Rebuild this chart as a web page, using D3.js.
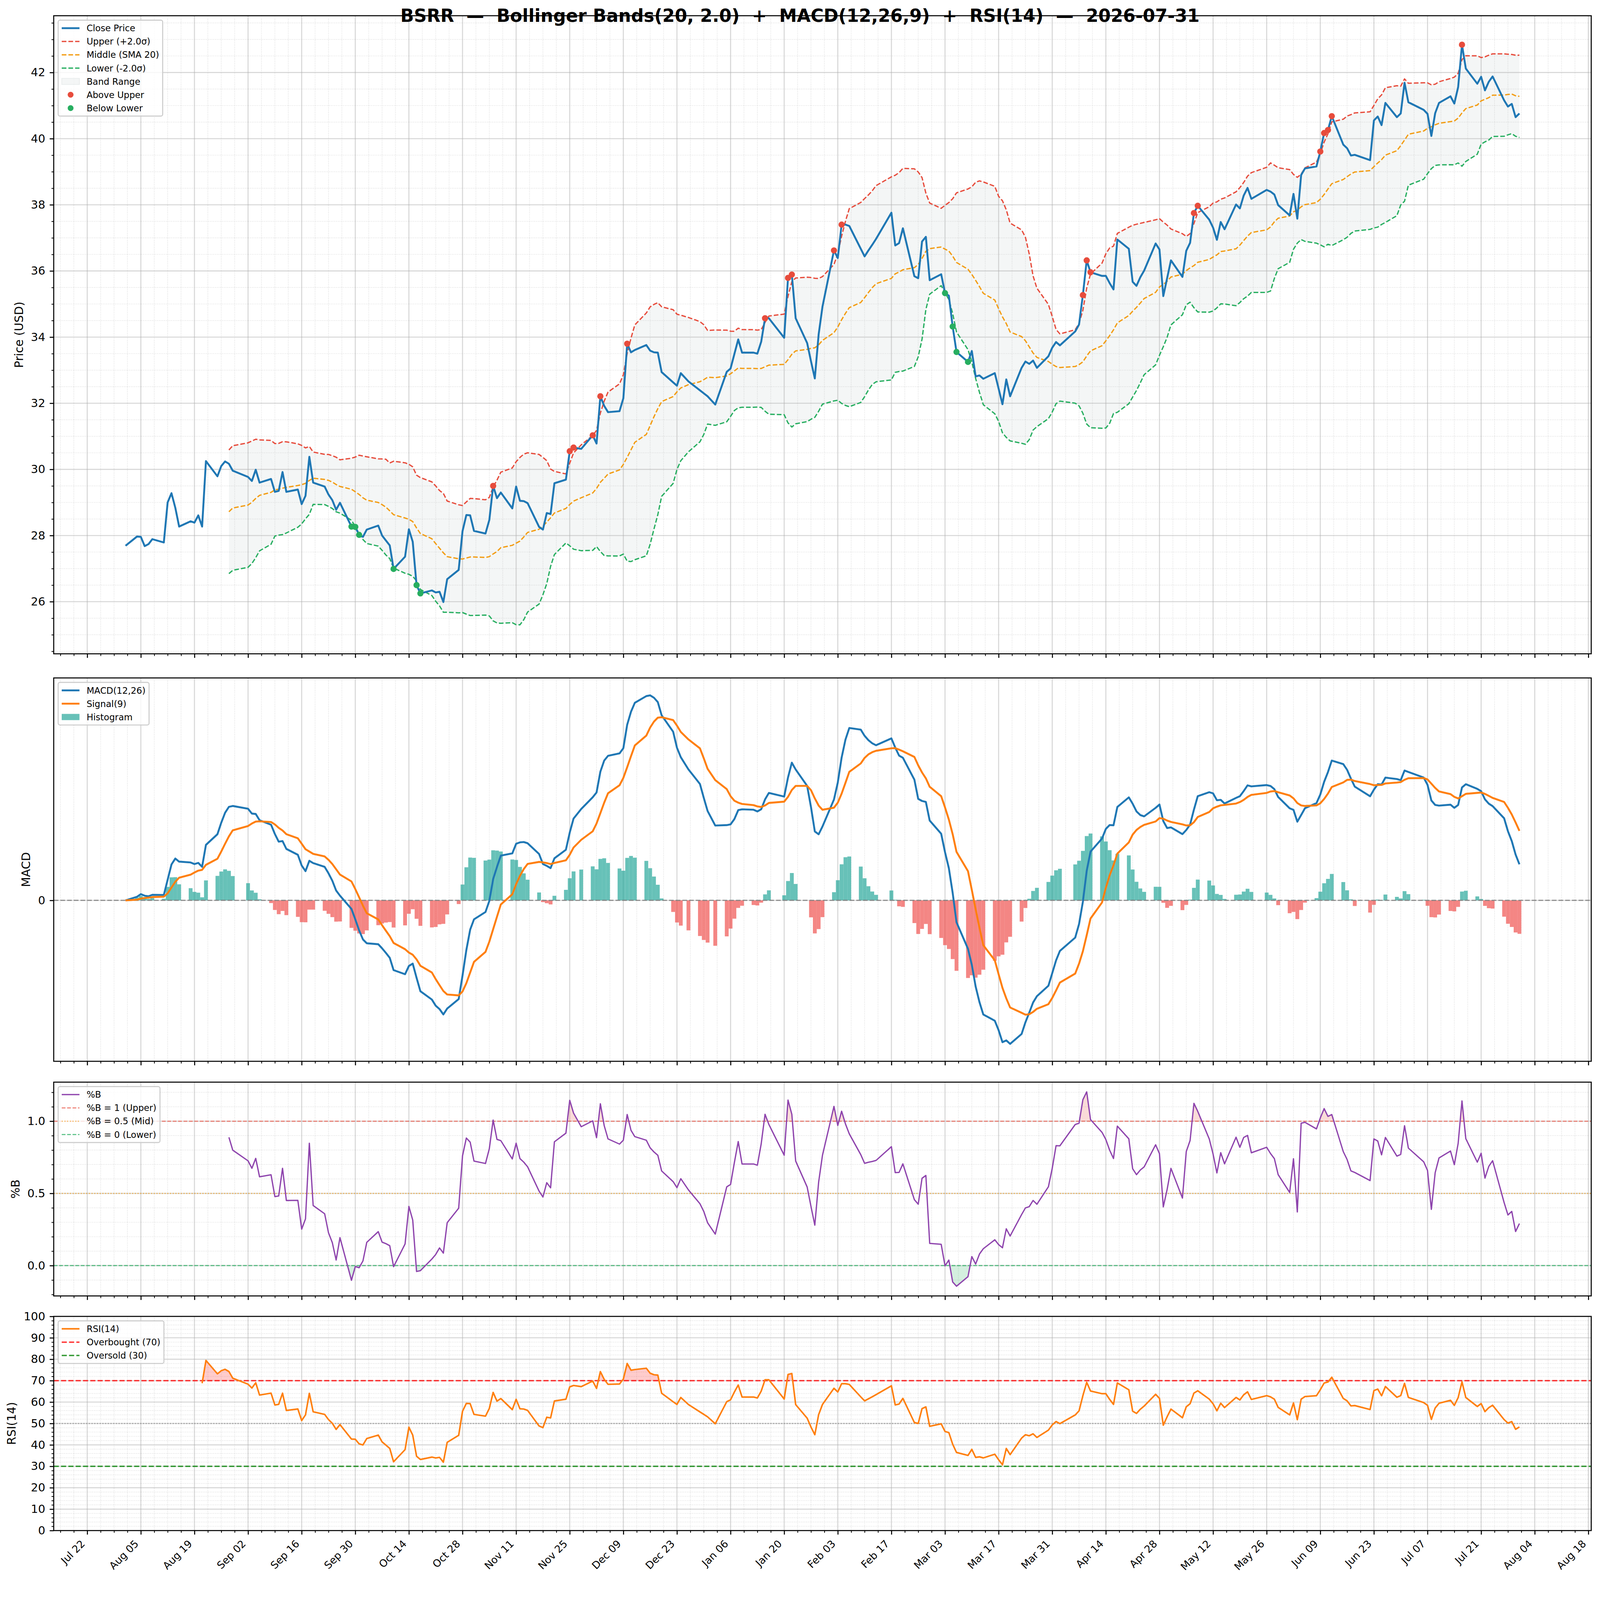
<!DOCTYPE html>
<html>
<head>
<meta charset="utf-8">
<title>BSRR Bollinger Bands + MACD + RSI</title>
<script src="https://cdn.jsdelivr.net/npm/d3@7/dist/d3.min.js"></script>
<style>
  html, body { margin: 0; padding: 0; background: #fff; overflow: hidden; }
  #chart { display: block; width: 100vw; height: calc(100vw * 4322 / 4378); }
  svg text { font-family: "DejaVu Sans", sans-serif; fill: #000; }
</style>
</head>
<body>
<svg id="chart" viewBox="0 0 4378 4322" preserveAspectRatio="xMinYMin meet"></svg>
<script>
// ---- values (NYSE trading days) ----
const tradeDates = [
  "2025-08-01","2025-08-04","2025-08-05","2025-08-06","2025-08-07","2025-08-08","2025-08-11","2025-08-12","2025-08-13","2025-08-14","2025-08-15",
  "2025-08-18","2025-08-19","2025-08-20","2025-08-21","2025-08-22","2025-08-25","2025-08-26","2025-08-27","2025-08-28","2025-08-29",
  "2025-09-02","2025-09-03","2025-09-04","2025-09-05","2025-09-08","2025-09-09","2025-09-10","2025-09-11","2025-09-12","2025-09-15",
  "2025-09-16","2025-09-17","2025-09-18","2025-09-19","2025-09-22","2025-09-23","2025-09-24","2025-09-25","2025-09-26","2025-09-29","2025-09-30",
  "2025-10-01","2025-10-02","2025-10-03","2025-10-06","2025-10-07","2025-10-08","2025-10-09","2025-10-10","2025-10-13","2025-10-14","2025-10-15",
  "2025-10-16","2025-10-17","2025-10-20","2025-10-21","2025-10-22","2025-10-23","2025-10-24","2025-10-27","2025-10-28","2025-10-29","2025-10-30","2025-10-31",
  "2025-11-03","2025-11-04","2025-11-05","2025-11-06","2025-11-07","2025-11-10","2025-11-11","2025-11-12","2025-11-13","2025-11-14",
  "2025-11-17","2025-11-18","2025-11-19","2025-11-20","2025-11-21","2025-11-24","2025-11-25","2025-11-26","2025-11-28",
  "2025-12-01","2025-12-02","2025-12-03","2025-12-04","2025-12-05","2025-12-08","2025-12-09","2025-12-10","2025-12-11","2025-12-12","2025-12-15",
  "2025-12-16","2025-12-17","2025-12-18","2025-12-19","2025-12-22","2025-12-23","2025-12-24","2025-12-26","2025-12-29","2025-12-30","2025-12-31",
  "2026-01-02","2026-01-05","2026-01-06","2026-01-07","2026-01-08","2026-01-09","2026-01-12","2026-01-13","2026-01-14","2026-01-15","2026-01-16",
  "2026-01-20","2026-01-21","2026-01-22","2026-01-23","2026-01-26","2026-01-27","2026-01-28","2026-01-29","2026-01-30",
  "2026-02-02","2026-02-03","2026-02-04","2026-02-05","2026-02-06","2026-02-09","2026-02-10","2026-02-11","2026-02-12","2026-02-13",
  "2026-02-17","2026-02-18","2026-02-19","2026-02-20","2026-02-23","2026-02-24","2026-02-25","2026-02-26","2026-02-27",
  "2026-03-02","2026-03-03","2026-03-04","2026-03-05","2026-03-06","2026-03-09","2026-03-10","2026-03-11","2026-03-12","2026-03-13","2026-03-16",
  "2026-03-17","2026-03-18","2026-03-19","2026-03-20","2026-03-23","2026-03-24","2026-03-25","2026-03-26","2026-03-27","2026-03-30","2026-03-31",
  "2026-04-01","2026-04-02","2026-04-06","2026-04-07","2026-04-08","2026-04-09","2026-04-10","2026-04-13","2026-04-14","2026-04-15","2026-04-16",
  "2026-04-17","2026-04-20","2026-04-21","2026-04-22","2026-04-23","2026-04-24","2026-04-27","2026-04-28","2026-04-29","2026-04-30",
  "2026-05-01","2026-05-04","2026-05-05","2026-05-06","2026-05-07","2026-05-08","2026-05-11","2026-05-12","2026-05-13","2026-05-14","2026-05-15",
  "2026-05-18","2026-05-19","2026-05-20","2026-05-21","2026-05-22","2026-05-26","2026-05-27","2026-05-28","2026-05-29",
  "2026-06-01","2026-06-02","2026-06-03","2026-06-04","2026-06-05","2026-06-08","2026-06-09","2026-06-10","2026-06-11","2026-06-12","2026-06-15",
  "2026-06-16","2026-06-17","2026-06-18","2026-06-22","2026-06-23","2026-06-24","2026-06-25","2026-06-26","2026-06-29","2026-06-30",
  "2026-07-01","2026-07-02","2026-07-06","2026-07-07","2026-07-08","2026-07-09","2026-07-10","2026-07-13","2026-07-14","2026-07-15","2026-07-16",
  "2026-07-17","2026-07-20","2026-07-21","2026-07-22","2026-07-23","2026-07-24","2026-07-27","2026-07-28","2026-07-29","2026-07-30","2026-07-31"
];

const closePrices = [
  27.69, 27.97, 27.96, 27.68, 27.74, 27.89, 27.79, 29.00, 29.28, 28.84, 28.27,
  28.43, 28.39, 28.61, 28.27, 30.25, 29.79, 30.10, 30.24, 30.17, 29.96,
  29.77, 29.65, 29.99, 29.60, 29.71, 29.32, 29.35, 29.92, 29.32, 29.39,
  28.95, 29.20, 30.38, 29.60, 29.48, 29.24, 29.07, 28.78, 28.99, 28.27, 28.26,
  28.02, 27.96, 28.18, 28.30, 28.00, 27.85, 27.70, 26.99, 27.36, 28.19, 27.81,
  26.50, 26.25, 26.34, 26.28, 26.30, 25.99, 26.68, 26.96, 28.13, 28.62, 28.61, 28.14,
  28.06, 28.47, 29.50, 29.13, 29.30, 28.82, 29.48, 29.05, 29.04, 28.98,
  28.26, 28.18, 28.68, 28.65, 29.58, 29.69, 30.55, 30.66, 30.62,
  31.03, 30.78, 32.21, 31.92, 31.73, 31.76, 32.15, 33.80, 33.54, 33.61, 33.76,
  33.59, 33.54, 33.53, 32.94, 32.63, 32.53, 32.91, 32.66, 32.39, 32.30, 32.21,
  31.96, 32.95, 33.05, 33.49, 33.93, 33.53, 33.53, 33.50, 33.86, 34.57, 34.57,
  33.98, 35.79, 35.89, 34.57, 33.82, 33.27, 32.75, 34.08, 34.92,
  36.62, 36.39, 37.40, 37.40, 37.36, 36.67, 36.44, 36.62, 36.79, 36.97,
  37.76, 36.77, 36.84, 37.29, 35.84, 35.78, 36.89, 37.03, 35.72,
  35.90, 35.33, 35.25, 34.32, 33.55, 33.25, 33.58, 32.81, 32.84, 32.74, 32.91,
  32.44, 31.97, 32.72, 32.21, 33.07, 33.26, 33.19, 33.29, 33.07, 33.42, 33.68,
  33.85, 33.75, 34.17, 34.38, 35.27, 36.32, 35.96, 35.85, 35.85, 35.63, 35.44,
  36.95, 36.67, 35.67, 35.55, 35.81, 36.01, 36.83, 36.65, 35.24, 35.78,
  36.32, 35.82, 36.61, 36.85, 37.75, 37.97, 37.55, 37.31, 36.94, 37.48, 37.26,
  38.01, 37.89, 38.28, 38.51, 38.18, 38.45, 38.40, 38.31, 37.99,
  37.68, 38.33, 37.58, 38.90, 39.10, 39.16, 39.61, 40.17, 40.26, 40.68, 39.82,
  39.71, 39.49, 39.51, 39.35, 40.55, 40.67, 40.41, 41.08, 40.65, 40.76,
  41.69, 41.10, 40.87, 40.75, 40.08, 40.77, 41.08, 41.28, 41.06, 41.56, 42.84,
  42.12, 41.66, 41.87, 41.46, 41.72, 41.88, 41.16, 40.97, 41.05, 40.65, 40.76
];

// tick labels / texts
const titleText = "BSRR  \u2014  Bollinger Bands(20, 2.0)  +  MACD(12,26,9)  +  RSI(14)  \u2014  2026-07-31";
const priceTicks = [26, 28, 30, 32, 34, 36, 38, 40, 42];
const macdTicks = [0];
const pctBTicks = [0, 0.5, 1];
const rsiTicks = [0, 10, 20, 30, 40, 50, 60, 70, 80, 90, 100];
const firstDateTick = "2025-07-22";
const lastDateTick = "2026-08-18";

// indicator settings
const bbWindow = 20, bbMult = 2, macdFast = 12, macdSlow = 26, macdSig = 9, rsiLen = 14;

// ---- indicators (pandas-style) ----
const DAY = 864e5;
const parseDay = d3.utcParse("%Y-%m-%d");
const dates = tradeDates.map(parseDay);

const rolling = (v, n, fn) => v.map((_, i) => (i < n - 1 ? null : fn(v.slice(i - n + 1, i + 1))));
const ema = (v, span) => {
  const a = 2 / (span + 1);
  let prev = null;
  return v.map(x => (prev = prev === null ? x : a * x + (1 - a) * prev));
};

const mid = rolling(closePrices, bbWindow, d3.mean);
const sd = rolling(closePrices, bbWindow, d3.deviation);
const upper = mid.map((m, i) => (m === null ? null : m + bbMult * sd[i]));
const lower = mid.map((m, i) => (m === null ? null : m - bbMult * sd[i]));
const pctB = closePrices.map((c, i) => (mid[i] === null ? null : (c - lower[i]) / (upper[i] - lower[i])));

const emaFast = ema(closePrices, macdFast);
const emaSlow = ema(closePrices, macdSlow);
const macd = emaFast.map((f, i) => f - emaSlow[i]);
const signal = ema(macd, macdSig);
const hist = macd.map((m, i) => m - signal[i]);

let avgGain = null, avgLoss = null;
const rsi = closePrices.map((c, i) => {
  if (i === 0) return null;
  const d = c - closePrices[i - 1];
  const g = Math.max(d, 0), l = Math.max(-d, 0);
  if (avgGain === null) { avgGain = g; avgLoss = l; }
  else { avgGain = avgGain * (1 - 1 / rsiLen) + g / rsiLen; avgLoss = avgLoss * (1 - 1 / rsiLen) + l / rsiLen; }
  if (i < rsiLen) return null;
  return avgLoss === 0 ? 100 : 100 - 100 / (1 + avgGain / avgLoss);
});

const rows = dates.map((date, i) => ({
  date, close: closePrices[i], mid: mid[i], upper: upper[i], lower: lower[i],
  macd: macd[i], signal: signal[i], hist: hist[i], rsi: rsi[i], pctB: pctB[i]
}));
const bandRows = rows.filter(d => d.mid !== null);
const rsiRows = rows.filter(d => d.rsi !== null);

// ---- layout ----
const W = 4378, H = 4322, L = 147, R = 4354;
const panels = [
  { top: 43, bottom: 1789 },
  { top: 1855, bottom: 2904 },
  { top: 2961, bottom: 3546 },
  { top: 3602, bottom: 4188 }
];

const padExtent = vals => {
  const [a, b] = d3.extent(vals.filter(v => v !== null));
  const m = (b - a) * 0.05;
  return [a - m, b + m];
};

const x = d3.scaleUtc()
  .domain([new Date(+dates[0] - 18.75 * DAY), new Date(+dates[dates.length - 1] + 18.75 * DAY)])
  .range([L, R]);
const yP = d3.scaleLinear().domain(padExtent([...closePrices, ...upper, ...lower])).range([panels[0].bottom, panels[0].top]);
const yM = d3.scaleLinear().domain(padExtent([...macd, ...signal, ...hist, 0])).range([panels[1].bottom, panels[1].top]);
const yB = d3.scaleLinear().domain(padExtent(pctB)).range([panels[2].bottom, panels[2].top]);
const yR = d3.scaleLinear().domain([0, 100]).range([panels[3].bottom, panels[3].top]);

const tickStart = parseDay(firstDateTick), tickEnd = parseDay(lastDateTick);
const majorX = [];
for (let t = +tickStart; t <= +tickEnd; t += 14 * DAY) majorX.push(new Date(t));
const [dx0, dx1] = x.domain();
const minorX = d3.range(-8, 120).filter(k => k % 4 !== 0)
  .map(k => new Date(+tickStart + k * 3.5 * DAY))
  .filter(t => t >= dx0 && t <= dx1);

const inDomain = (s, v) => v >= s.domain()[0] && v <= s.domain()[1];
const priceMinor = d3.range(20, 46, 0.5).filter(v => v % 2 !== 0 && inDomain(yP, v));
const pctBMinor = d3.range(-5, 16).map(k => k / 10).filter(v => ![0, 0.5, 1].includes(v) && inDomain(yB, v));
const rsiMinor = d3.range(0, 101, 2).filter(v => v % 10 !== 0);

const svg = d3.select("#chart");
svg.append("rect").attr("width", W).attr("height", H).attr("fill", "#fff");
const defs = svg.append("defs");

const COLORS = {
  close: "#1f77b4", upper: "#e74c3c", middle: "#f39c12", lower: "#27ae60",
  band: "#95a5a6", macd: "#1f77b4", signal: "#ff7f0e",
  histUp: "#26a69a", histDown: "#ef5350", pctB: "#8e44ad", rsi: "#ff7f0e"
};

function panelGroup(i) {
  const p = panels[i];
  defs.append("clipPath").attr("id", "clip" + i)
    .append("rect").attr("x", L).attr("y", p.top).attr("width", R - L).attr("height", p.bottom - p.top);
  return svg.append("g").attr("clip-path", `url(#clip${i})`);
}

function grid(g, i, yScale, yMajor, yMinor) {
  const p = panels[i];
  const gg = g.append("g").attr("stroke", "#b0b0b0");
  gg.selectAll("line.vmin").data(minorX).join("line").attr("class", "vmin")
    .attr("x1", d => x(d)).attr("x2", d => x(d)).attr("y1", p.top).attr("y2", p.bottom)
    .attr("stroke-width", 1.8).attr("stroke-dasharray", "1.8,3").attr("stroke-opacity", 0.45);
  gg.selectAll("line.hmin").data(yMinor).join("line").attr("class", "hmin")
    .attr("x1", L).attr("x2", R).attr("y1", d => yScale(d)).attr("y2", d => yScale(d))
    .attr("stroke-width", 1.8).attr("stroke-dasharray", "1.8,3").attr("stroke-opacity", 0.45);
  gg.selectAll("line.vmaj").data(majorX).join("line").attr("class", "vmaj")
    .attr("x1", d => x(d)).attr("x2", d => x(d)).attr("y1", p.top).attr("y2", p.bottom)
    .attr("stroke-width", 2.8).attr("stroke-opacity", 0.5);
  gg.selectAll("line.hmaj").data(yMajor).join("line").attr("class", "hmaj")
    .attr("x1", L).attr("x2", R).attr("y1", d => yScale(d)).attr("y2", d => yScale(d))
    .attr("stroke-width", 2.8).attr("stroke-opacity", 0.5);
}

function hline(g, yScale, v, color, width, dash, opacity) {
  g.append("line").attr("x1", L).attr("x2", R).attr("y1", yScale(v)).attr("y2", yScale(v))
    .attr("stroke", color).attr("stroke-width", width).attr("stroke-dasharray", dash)
    .attr("stroke-opacity", opacity);
}

// fill between series and a threshold, with interpolated crossings
function thresholdFill(g, data, key, yScale, thr, above, color, opacity) {
  const pts = [];
  data.forEach((p, i) => {
    if (i > 0) {
      const q = data[i - 1];
      if ((q[key] - thr) * (p[key] - thr) < 0) {
        const t = (thr - q[key]) / (p[key] - q[key]);
        pts.push({ date: new Date(+q.date + t * (p.date - q.date)), v: thr });
      }
    }
    pts.push({ date: p.date, v: p[key] });
  });
  const clipV = d => (above ? Math.max(d.v, thr) : Math.min(d.v, thr));
  g.append("path").datum(pts)
    .attr("d", d3.area().x(d => x(d.date)).y0(yScale(thr)).y1(d => yScale(clipV(d))))
    .attr("fill", color).attr("fill-opacity", opacity);
}

function linePath(g, data, key, yScale, color, width, dash) {
  g.append("path").datum(data)
    .attr("d", d3.line().x(d => x(d.date)).y(d => yScale(d[key])))
    .attr("fill", "none").attr("stroke", color).attr("stroke-width", width)
    .attr("stroke-linejoin", "round").attr("stroke-dasharray", dash || null);
}

// ---- panel 1: price + bands ----
const g1 = panelGroup(0);
g1.append("path").datum(bandRows)
  .attr("d", d3.area().x(d => x(d.date)).y0(d => yP(d.lower)).y1(d => yP(d.upper)))
  .attr("fill", COLORS.band).attr("fill-opacity", 0.1);
grid(g1, 0, yP, priceTicks, priceMinor);
linePath(g1, bandRows, "upper", yP, COLORS.upper, 3.5, "12.8,5.5");
linePath(g1, bandRows, "mid", yP, COLORS.middle, 3.5, "12.8,5.5");
linePath(g1, bandRows, "lower", yP, COLORS.lower, 3.5, "12.8,5.5");
linePath(g1, rows, "close", yP, COLORS.close, 5.2);
g1.selectAll("circle.up").data(bandRows.filter(d => d.close > d.upper)).join("circle")
  .attr("class", "up").attr("cx", d => x(d.date)).attr("cy", d => yP(d.close)).attr("r", 8.5)
  .attr("fill", COLORS.upper);
g1.selectAll("circle.dn").data(bandRows.filter(d => d.close < d.lower)).join("circle")
  .attr("class", "dn").attr("cx", d => x(d.date)).attr("cy", d => yP(d.close)).attr("r", 8.5)
  .attr("fill", COLORS.lower);

// ---- panel 2: MACD ----
const g2 = panelGroup(1);
grid(g2, 1, yM, macdTicks, []);
g2.selectAll("rect.bar").data(rows).join("rect").attr("class", "bar")
  .attr("x", d => x(new Date(+d.date - 0.5 * DAY)))
  .attr("width", d => x(new Date(+d.date + 0.5 * DAY)) - x(new Date(+d.date - 0.5 * DAY)))
  .attr("y", d => yM(Math.max(0, d.hist)))
  .attr("height", d => Math.abs(yM(d.hist) - yM(0)))
  .attr("fill", d => (d.hist >= 0 ? COLORS.histUp : COLORS.histDown)).attr("fill-opacity", 0.7);
hline(g2, yM, 0, "#808080", 3, "12.8,5.5", 0.9);
linePath(g2, rows, "macd", yM, COLORS.macd, 5.2);
linePath(g2, rows, "signal", yM, COLORS.signal, 5.2);

// ---- panel 3: %B ----
const g3 = panelGroup(2);
grid(g3, 2, yB, pctBTicks, pctBMinor);
thresholdFill(g3, bandRows, "pctB", yB, 1, true, COLORS.upper, 0.2);
thresholdFill(g3, bandRows, "pctB", yB, 0, false, COLORS.lower, 0.2);
hline(g3, yB, 1, COLORS.upper, 2.8, "10.3,4.5", 0.75);
hline(g3, yB, 0.5, COLORS.middle, 2.8, "2.8,4.6", 0.75);
hline(g3, yB, 0, COLORS.lower, 2.8, "10.3,4.5", 0.75);
linePath(g3, bandRows, "pctB", yB, COLORS.pctB, 3.5);

// ---- panel 4: RSI ----
const g4 = panelGroup(3);
grid(g4, 3, yR, rsiTicks, rsiMinor);
thresholdFill(g4, rsiRows, "rsi", yR, 70, true, "#ff0000", 0.2);
thresholdFill(g4, rsiRows, "rsi", yR, 30, false, "#008000", 0.2);
hline(g4, yR, 70, "#ff0000", 3.8, "14,6", 0.8);
hline(g4, yR, 30, "#008000", 3.8, "14,6", 0.8);
hline(g4, yR, 50, "#808080", 2.8, "2.8,4.6", 0.7);
linePath(g4, rsiRows, "rsi", yR, COLORS.rsi, 4.2);

// ---- axes ----
function styleTicks(ax, width) {
  ax.select(".domain").remove();
  ax.selectAll(".tick line").attr("stroke", "#000").attr("stroke-width", width);
  ax.attr("font-family", null).attr("font-size", null);
}

function yAxis(i, scale, major, minor, fmt, label) {
  const ax = svg.append("g").attr("transform", `translate(${L},0)`)
    .call(d3.axisLeft(scale).tickValues(major).tickSize(11).tickPadding(12).tickFormat(fmt));
  styleTicks(ax, 2.8);
  ax.selectAll(".tick text").attr("font-size", 31).attr("fill", "#000");
  if (minor.length) {
    const mx = svg.append("g").attr("transform", `translate(${L},0)`)
      .call(d3.axisLeft(scale).tickValues(minor).tickSize(6).tickFormat(""));
    styleTicks(mx, 2.1);
  }
  // bbox is in the group's own coordinates, so shift it by the axis offset
  const bb = ax.node().getBBox();
  const p = panels[i];
  const xb = L + bb.x - 14 - 0.24 * 32;
  const cy = (p.top + p.bottom) / 2;
  svg.append("text").attr("transform", `translate(${xb},${cy}) rotate(-90)`)
    .attr("text-anchor", "middle").attr("font-size", 32).text(label);
}

function xAxis(i, withLabels) {
  const p = panels[i];
  const ax = svg.append("g").attr("transform", `translate(0,${p.bottom})`)
    .call(d3.axisBottom(x).tickValues(majorX).tickSize(11).tickPadding(12)
      .tickFormat(withLabels ? d3.utcFormat("%b %d") : ""));
  styleTicks(ax, 2.8);
  if (withLabels) {
    ax.selectAll(".tick text")
      .attr("y", null).attr("dy", null)
      .attr("text-anchor", "end").attr("font-size", 28).attr("fill", "#000")
      .attr("transform", "translate(-5,38) rotate(-45)");
  }
  const mx = svg.append("g").attr("transform", `translate(0,${p.bottom})`)
    .call(d3.axisBottom(x).tickValues(minorX).tickSize(6).tickFormat(""));
  styleTicks(mx, 2.1);
}

yAxis(0, yP, priceTicks, priceMinor, d3.format("d"), "Price (USD)");
yAxis(1, yM, macdTicks, [], d3.format("d"), "MACD");
yAxis(2, yB, pctBTicks, pctBMinor, d3.format(".1f"), "%B");
yAxis(3, yR, rsiTicks, rsiMinor, d3.format("d"), "RSI(14)");
panels.forEach((p, i) => xAxis(i, i === 3));

// spines
panels.forEach(p => {
  svg.append("rect").attr("x", L).attr("y", p.top).attr("width", R - L).attr("height", p.bottom - p.top)
    .attr("fill", "none").attr("stroke", "#000").attr("stroke-width", 2.8);
});

// ---- legends ----
function legend(i, items) {
  const fs = 24.3, pad = 0.4 * fs, row = fs, gap = 0.5 * fs, hl = 2 * fs, tp = 0.8 * fs;
  const x0 = L + 0.5 * fs, y0 = panels[i].top + 0.5 * fs;
  const g = svg.append("g");
  const frame = g.append("rect");
  let maxW = 0;
  items.forEach((it, k) => {
    const cy = y0 + pad + row / 2 + k * (row + gap);
    const hx = x0 + pad;
    if (it.kind === "line") {
      g.append("line").attr("x1", hx).attr("x2", hx + hl).attr("y1", cy).attr("y2", cy)
        .attr("stroke", it.color).attr("stroke-width", it.width)
        .attr("stroke-dasharray", it.dash || null).attr("stroke-opacity", it.opacity || 1);
    } else if (it.kind === "patch") {
      g.append("rect").attr("x", hx).attr("y", cy - 0.35 * fs).attr("width", hl).attr("height", 0.7 * fs)
        .attr("fill", it.color).attr("fill-opacity", it.opacity)
        .attr("stroke", it.stroke || "none").attr("stroke-opacity", it.strokeOpacity || 1).attr("stroke-width", 2);
    } else {
      g.append("circle").attr("cx", hx + hl / 2).attr("cy", cy).attr("r", 8).attr("fill", it.color);
    }
    const t = g.append("text").attr("x", hx + hl + tp).attr("y", cy).attr("dy", "0.36em")
      .attr("font-size", fs).text(it.label);
    maxW = Math.max(maxW, t.node().getComputedTextLength());
  });
  frame.attr("x", x0).attr("y", y0)
    .attr("width", pad + hl + tp + maxW + pad)
    .attr("height", 2 * pad + items.length * row + (items.length - 1) * gap)
    .attr("rx", 5).attr("fill", "#fff").attr("fill-opacity", 0.8)
    .attr("stroke", "#cccccc").attr("stroke-width", 2.8);
}

legend(0, [
  { kind: "line", label: "Close Price", color: COLORS.close, width: 5.2 },
  { kind: "line", label: "Upper (+2.0\u03c3)", color: COLORS.upper, width: 3.5, dash: "12.8,5.5" },
  { kind: "line", label: "Middle (SMA 20)", color: COLORS.middle, width: 3.5, dash: "12.8,5.5" },
  { kind: "line", label: "Lower (-2.0\u03c3)", color: COLORS.lower, width: 3.5, dash: "12.8,5.5" },
  { kind: "patch", label: "Band Range", color: COLORS.band, opacity: 0.1, stroke: COLORS.band, strokeOpacity: 0.15 },
  { kind: "dot", label: "Above Upper", color: COLORS.upper },
  { kind: "dot", label: "Below Lower", color: COLORS.lower }
]);
legend(1, [
  { kind: "line", label: "MACD(12,26)", color: COLORS.macd, width: 5.2 },
  { kind: "line", label: "Signal(9)", color: COLORS.signal, width: 5.2 },
  { kind: "patch", label: "Histogram", color: COLORS.histUp, opacity: 0.7 }
]);
legend(2, [
  { kind: "line", label: "%B", color: COLORS.pctB, width: 3.5 },
  { kind: "line", label: "%B = 1 (Upper)", color: COLORS.upper, width: 2.8, dash: "10.3,4.5", opacity: 0.75 },
  { kind: "line", label: "%B = 0.5 (Mid)", color: COLORS.middle, width: 2.8, dash: "2.8,4.6", opacity: 0.75 },
  { kind: "line", label: "%B = 0 (Lower)", color: COLORS.lower, width: 2.8, dash: "10.3,4.5", opacity: 0.75 }
]);
legend(3, [
  { kind: "line", label: "RSI(14)", color: COLORS.rsi, width: 4.2 },
  { kind: "line", label: "Overbought (70)", color: "#ff0000", width: 3.8, dash: "14,6", opacity: 0.8 },
  { kind: "line", label: "Oversold (30)", color: "#008000", width: 3.8, dash: "14,6", opacity: 0.8 }
]);

// ---- title ----
svg.append("text").attr("x", W / 2).attr("y", 60).attr("text-anchor", "middle")
  .attr("font-size", 48.6).attr("font-weight", "bold")
  .attr("xml:space", "preserve").style("white-space", "pre")
  .text(titleText);
</script>
</body>
</html>
